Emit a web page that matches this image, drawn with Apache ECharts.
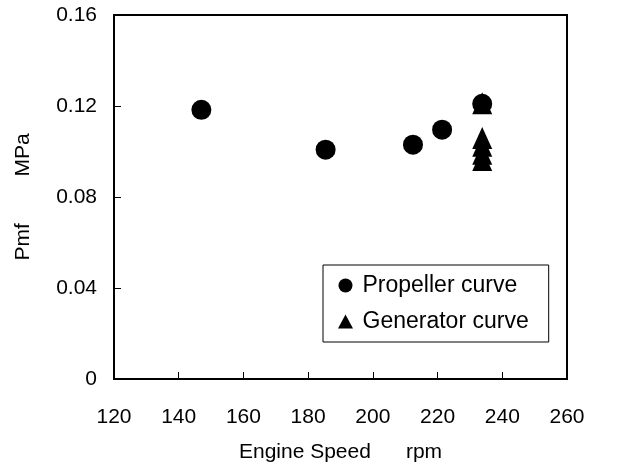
<!DOCTYPE html>
<html>
<head>
<meta charset="utf-8">
<script src="https://cdn.jsdelivr.net/npm/echarts@6/dist/echarts.min.js"></script>
<style>
  html, body { margin: 0; padding: 0; background: #fff; }
  #chart { width: 619px; height: 468px; }
</style>
</head>
<body>
<div id="chart"></div>
<script>
// engine speed (rpm) / Pmf (MPa)
const propellerSpeed = [147.0, 185.4, 212.4, 221.4, 233.8];
const propellerPmf = [0.1183, 0.1008, 0.1030, 0.1096, 0.1210];
const generatorSpeed = [233.8, 233.8, 233.8, 233.8, 233.8];
const generatorPmf = [0.1212, 0.1059, 0.1025, 0.0990, 0.0963];
const xTicks = [120, 140, 160, 180, 200, 220, 240, 260];
const yTicks = [0, 0.04, 0.08, 0.12, 0.16];

const font = '"Liberation Sans", Arial, sans-serif';
const chart = echarts.init(document.getElementById('chart'));

const pairs = (xs, ys) => xs.map((x, i) => [x, ys[i]]);

const axisCommon = {
    axisLine: { show: true, lineStyle: { color: '#000', width: 2 } },
    axisTick: { show: true, inside: true, length: 7, lineStyle: { color: '#000', width: 1 } },
    splitLine: { show: false },
    nameLocation: 'middle',
    nameTextStyle: { color: '#000', fontSize: 21, fontFamily: font },
};

chart.setOption({
    backgroundColor: '#fff',
    animation: false,
    grid: {
        left: 114, top: 15, width: 453, height: 367,
        show: true, borderColor: '#000', borderWidth: 2,
    },
    legend: {
        orient: 'vertical',
        left: 323,
        top: 265,
        padding: [9, 20, 9, 15],
        itemGap: 13,
        itemWidth: 24,
        itemHeight: 14,
        borderColor: '#000',
        borderWidth: 1,
        textStyle: { color: '#000', fontSize: 23, fontFamily: font },
        data: [
            { name: 'Propeller curve', icon: 'circle' },
            { name: 'Generator curve', icon: 'path://M7.5,0 L15,14 L0,14 Z' },
        ],
    },
    xAxis: {
        ...axisCommon,
        type: 'value',
        min: xTicks[0],
        max: xTicks[xTicks.length - 1],
        interval: 20,
        name: 'Engine Speed      rpm',
        nameGap: 63,
        axisLabel: { color: '#000', fontSize: 21, fontFamily: font, margin: 28 },
    },
    yAxis: {
        ...axisCommon,
        type: 'value',
        min: yTicks[0],
        max: yTicks[yTicks.length - 1],
        interval: 0.04,
        name: 'Pmf        MPa',
        nameGap: 80,
        axisLabel: {
            color: '#000', fontSize: 21, fontFamily: font, margin: 17,
            formatter: (v) => (v === 0 ? '0' : v.toFixed(2)),
        },
    },
    series: [
        {
            type: 'scatter',
            name: 'Generator curve',
            symbol: 'triangle',
            symbolSize: [20, 22],
            itemStyle: { color: '#000', opacity: 1 },
            data: pairs(generatorSpeed, generatorPmf),
        },
        {
            type: 'scatter',
            name: 'Propeller curve',
            symbol: 'circle',
            symbolSize: 20,
            itemStyle: { color: '#000', opacity: 1 },
            data: pairs(propellerSpeed, propellerPmf),
        },
    ],
});
</script>
</body>
</html>
